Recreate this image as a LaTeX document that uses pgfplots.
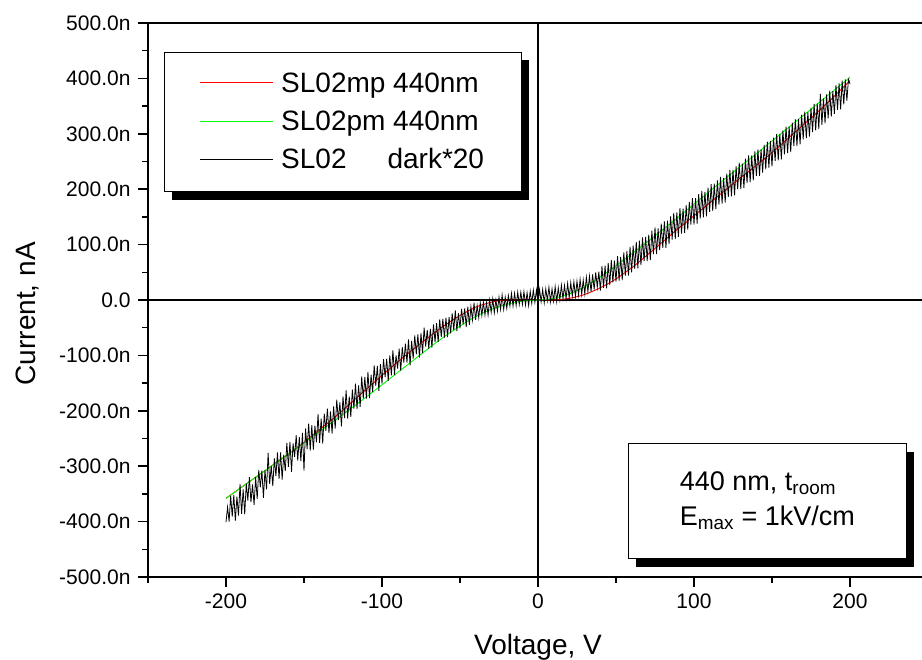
\documentclass[border=0pt]{standalone}
\usepackage{fontspec}
\setmainfont{Liberation Sans}
\usepackage{pgfplots}
\pgfplotsset{compat=1.18}
\usetikzlibrary{shadows}
\definecolor{puregreen}{RGB}{0,255,0}
\definecolor{purered}{RGB}{255,0,0}
\begin{document}
\begin{tikzpicture}
\begin{axis}[
  at={(0pt,0pt)}, anchor=south west,
  scale only axis, width=780pt, height=554pt,
  xmin=-250, xmax=250, ymin=-500, ymax=500,
  xtick={-200,-100,0,100,200},
  xticklabels={-200,-100,0,100,200},
  ytick={-500,-400,-300,-200,-100,0,100,200,300,400,500},
  yticklabels={-500.0n,-400.0n,-300.0n,-200.0n,-100.0n,0.0,100.0n,200.0n,300.0n,400.0n,500.0n},
  minor xtick={-250,-150,-50,50,150,250},
  minor ytick={-450,-350,-250,-150,-50,50,150,250,350,450},
  xtick pos=bottom, ytick pos=left,
  tick align=outside,
  major tick length=10pt, minor tick length=6pt,
  every tick/.style={black, line width=1.5pt},
  axis line style={line width=1.5pt},
  ticklabel style={font=\fontsize{21}{25}\selectfont},
  yticklabel style={xshift=-4pt},
  xticklabel style={yshift=-3pt},
  xlabel={Voltage, V}, ylabel={Current, nA},
  label style={font=\fontsize{28}{32}\selectfont},
  xlabel style={at={(axis description cs:0.5,-0.139)}, anchor=base},
  ylabel style={at={(axis description cs:-0.155,0.475)}, anchor=center},
]
\draw[line width=1.5pt] (axis cs:0,-500) -- (axis cs:0,500);
\draw[line width=1.5pt] (axis cs:-250,0) -- (axis cs:250,0);

\addplot[purered, line width=0.9pt, smooth] coordinates {
(-200,-358)(-190,-338)(-180,-318)(-170,-298)(-160,-278)(-150,-257)(-140,-234)(-130,-211)(-120,-186)(-110,-161)
(-100,-136)(-90,-112)(-80,-89)(-70,-67)(-60,-46)(-50,-28)(-40,-13)(-30,-4)(-25,-1.5)(-20,0)(-10,0)(0,0)(10,0)(15,1)
(20,3)(25,6)(30,10)(40,22)(50,38)(60,58)(70,81)(80,105)(90,129)(100,152)(110,175)(120,198)(130,221)(140,243)
(150,266)(160,291)(170,316)(180,341)(190,368)(200,396)};

\addplot[puregreen, line width=0.9pt, smooth] coordinates {
(-200,-358)(-190,-338)(-180,-318)(-170,-298)(-160,-278)(-150,-258)(-140,-237)(-130,-217)(-120,-196)(-110,-175)
(-100,-153)(-90,-131)(-80,-109)(-70,-87)(-60,-66)(-50,-47)(-40,-30)(-30,-17)(-20,-8)(-10,-2)(0,0)(10,3)(20,11)
(30,24)(40,42)(50,62)(60,83)(70,105)(80,127)(90,150)(100,173)(110,196)(120,219)(130,242)(140,264)(150,287)
(160,310)(170,333)(180,356)(190,379)(200,402)};

\addplot[black, line width=0.8pt] coordinates {
(-200,-401)(-199,-374)(-198,-400)(-197,-353)(-196,-391)
(-195,-352)(-194,-398)(-193,-355)(-192,-389)(-191,-332)
(-190,-386)(-189,-342)(-188,-387)(-187,-331)(-186,-362)
(-185,-320)(-184,-365)(-183,-333)(-182,-370)(-181,-320)
(-180,-359)(-179,-307)(-178,-338)(-177,-308)(-176,-357)
(-175,-307)(-174,-342)(-173,-276)(-172,-332)(-171,-299)
(-170,-336)(-169,-286)(-168,-318)(-167,-275)(-166,-323)
(-165,-275)(-164,-324)(-163,-279)(-162,-309)(-161,-258)
(-160,-301)(-159,-256)(-158,-310)(-157,-259)(-156,-283)
(-155,-244)(-154,-290)(-153,-247)(-152,-291)(-151,-240)
(-150,-308)(-149,-232)(-148,-269)(-147,-223)(-146,-272)
(-145,-226)(-144,-270)(-143,-227)(-142,-257)(-141,-206)
(-140,-258)(-139,-214)(-138,-259)(-137,-205)(-136,-236)
(-135,-196)(-134,-240)(-133,-201)(-132,-241)(-131,-192)
(-130,-232)(-129,-180)(-128,-217)(-127,-185)(-126,-228)
(-125,-174)(-124,-213)(-123,-163)(-122,-214)(-121,-174)
(-120,-211)(-119,-162)(-118,-196)(-117,-151)(-116,-197)
(-115,-154)(-114,-193)(-113,-138)(-112,-178)(-111,-139)
(-110,-178)(-109,-130)(-108,-177)(-107,-135)(-106,-166)
(-105,-118)(-104,-155)(-103,-119)(-102,-164)(-101,-116)
(-100,-151)(-99,-107)(-98,-139)(-97,-106)(-96,-146)
(-95,-100)(-94,-136)(-93,-91)(-92,-135)(-91,-100)
(-90,-124)(-89,-88)(-88,-128)(-87,-85)(-86,-113)
(-85,-79)(-84,-113)(-83,-71)(-82,-118)(-81,-74)
(-80,-106)(-79,-64)(-78,-98)(-77,-62)(-76,-104)
(-75,-60)(-74,-96)(-73,-50)(-72,-84)(-71,-54)
(-70,-88)(-69,-52)(-68,-86)(-67,-44)(-66,-76)
(-65,-42)(-64,-76)(-63,-35)(-62,-67)(-61,-34)
(-60,-68)(-59,-32)(-58,-67)(-57,-31)(-56,-60)
(-55,-24)(-54,-55)(-53,-19)(-52,-56)(-51,-24)
(-50,-51)(-49,-16)(-48,-44)(-47,-15)(-46,-49)
(-45,-12)(-44,-45)(-43,-12)(-42,-36)(-41,-5)
(-40,-36)(-39,-10)(-38,-32)(-37,-5)(-36,-28)
(-35,-4)(-34,-27)(-33,-5)(-32,-27)(-31,0)
(-30,-22)(-29,2)(-28,-23)(-27,0)(-26,-20)
(-25,5)(-24,-17)(-23,9)(-22,-17)(-21,5)
(-20,-15)(-19,8)(-18,-11)(-17,12)(-16,-11)
(-15,12)(-14,-10)(-13,14)(-12,-8)(-11,14)
(-10,-8)(-9,15)(-8,-9)(-7,13)(-6,-10)
(-5,16)(-4,-6)(-3,18)(-2,-4)(-1,18)
(0,-6)(1,19)(2,-3)(3,19)(4,-5)
(5,20)(6,-1)(7,23)(8,-3)(9,20)
(10,-2)(11,24)(12,-3)(13,22)(14,0)
(15,27)(16,2)(17,26)(18,2)(19,30)
(20,4)(21,31)(22,7)(23,33)(24,6)
(25,34)(26,9)(27,37)(28,10)(29,36)
(30,11)(31,41)(32,15)(33,43)(34,15)
(35,46)(36,19)(37,50)(38,23)(39,51)
(40,17)(41,61)(42,22)(43,62)(44,21)
(45,67)(46,27)(47,72)(48,32)(49,71)
(50,33)(51,79)(52,35)(53,78)(54,36)
(55,86)(56,44)(57,88)(58,44)(59,96)
(60,50)(61,98)(62,56)(63,105)(64,57)
(65,107)(66,63)(67,113)(68,70)(69,114)
(70,70)(71,118)(72,72)(73,125)(74,83)
(75,131)(76,83)(77,129)(78,90)(79,138)
(80,94)(81,142)(82,94)(83,143)(84,101)
(85,151)(86,109)(87,157)(88,110)(89,158)
(90,114)(91,166)(92,120)(93,165)(94,121)
(95,171)(96,127)(97,177)(98,136)(99,184)
(100,136)(101,184)(102,138)(103,191)(104,147)
(105,197)(106,149)(107,195)(108,151)(109,203)
(110,159)(111,209)(112,161)(113,210)(114,164)
(115,216)(116,172)(117,222)(118,174)(119,220)
(120,176)(121,228)(122,186)(123,235)(124,187)
(125,235)(126,189)(127,241)(128,200)(129,248)
(130,200)(131,246)(132,202)(133,255)(134,211)
(135,261)(136,213)(137,261)(138,216)(139,268)
(140,224)(141,272)(142,224)(143,272)(144,230)
(145,280)(146,236)(147,286)(148,239)(149,287)
(150,241)(151,293)(152,251)(153,300)(154,252)
(155,300)(156,254)(157,306)(158,263)(159,313)
(160,265)(161,313)(162,267)(163,320)(164,278)
(165,326)(166,278)(167,327)(168,281)(169,334)
(170,290)(171,340)(172,292)(173,339)(174,295)
(175,347)(176,303)(177,354)(178,306)(179,355)
(180,309)(181,372)(182,316)(183,364)(184,319)
(185,371)(186,328)(187,378)(188,331)(189,377)
(190,336)(191,388)(192,343)(193,391)(194,344)
(195,396)(196,353)(197,398)(198,360)(199,398)(200,390)};
\end{axis}
% legend (drawn by hand, axis origin at (0,0), 1pt = 1px)
\fill[black] (24pt,377pt) rectangle (381pt,517pt);
\draw[line width=0.8pt, fill=white] (16pt,386pt) rectangle (373pt,525pt);
\draw[purered, line width=1.5pt] (52pt,494.5pt) -- (125pt,494.5pt);
\draw[puregreen, line width=1.5pt] (52pt,455.5pt) -- (125pt,455.5pt);
\draw[black, line width=1.2pt] (52pt,417.5pt) -- (125pt,417.5pt);
\begin{scope}[every node/.style={anchor=base west, inner sep=0pt, font=\fontsize{28}{30}\selectfont}]
\node at (133pt,484pt) {SL02mp 440nm};
\node at (133pt,446pt) {SL02pm 440nm};
\node at (133pt,408pt) {SL02\hspace{41pt}dark*20};
\end{scope}
\node[draw=black, line width=0.8pt, fill=white,
  drop shadow={shadow xshift=8pt, shadow yshift=-9pt, fill=black, opacity=1},
  minimum width=278pt, minimum height=115pt, anchor=north west, align=left,
  font=\fontsize{27}{35}\selectfont, inner sep=0pt] at (480pt,134pt)
  {440 nm, t\textsubscript{room}\\E\textsubscript{max} = 1kV/cm};
\pgfresetboundingbox
\path[use as bounding box] (-148pt,-83pt) rectangle (774pt,577pt);
\end{tikzpicture}
\end{document}
